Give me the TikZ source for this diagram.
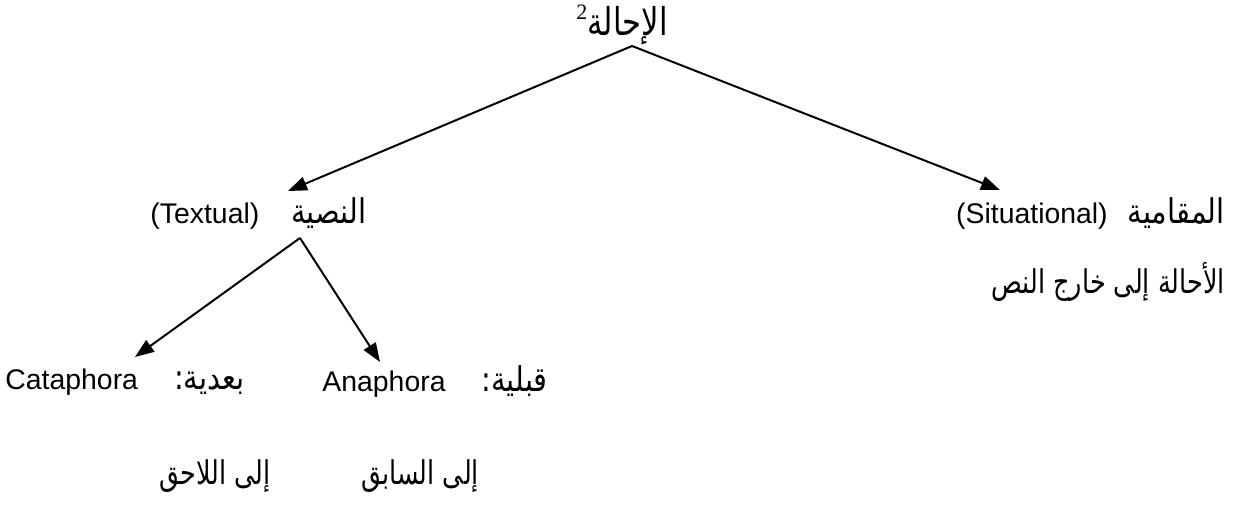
\documentclass[tikz,border=0pt]{standalone}
\usepackage{fontspec}
\usepackage{graphicx}
\setmainfont{Liberation Sans}
\newfontfamily\arabicfont[Script=Arabic,Scale=1.2]{DejaVu Sans}
\newfontfamily\extarabic[Script=Arabic,Scale=1.15]{DejaVu Sans}
\newfontfamily\titlearabic[Script=Arabic,Scale=1.35]{DejaVu Sans}
\newfontfamily\supfont{Liberation Serif}
\newcommand{\arlbl}[1]{\scalebox{0.85}[1]{\arabicfont\beginR #1\endR}}
\newcommand{\arext}[1]{\scalebox{0.78}[1]{\extarabic\beginR #1\endR}}
\TeXXeTstate=1
\usetikzlibrary{arrows.meta}
\begin{document}
\begin{tikzpicture}[x=0.5pt,y=-0.5pt,
  lbl/.style={inner sep=0pt,font=\fontsize{14.2}{17}\selectfont},
  arr/.style={line width=1pt,-{Triangle[length=9.5pt,width=7pt]}}]
\useasboundingbox (0,0) rectangle (1233,517);
\node[lbl] (top) at (622,25) {\raisebox{0.55em}{\supfont\fontsize{11}{12}\selectfont 2}\scalebox{0.8}[1]{\titlearabic\beginR الإحالة\endR}};
\coordinate (apex) at (632,46);
\node[lbl,anchor=west] (textual) at (150,214) {(Textual)\hspace{16pt}\arlbl{النصية}};
\node[lbl,anchor=east] (situ) at (1225,214) {(Situational)\hspace{10pt}\arlbl{المقامية}};
\node[lbl,anchor=east] (ext) at (1225,282) {\arext{الأحالة إلى خارج النص}};
\coordinate (tl) at (288,191);
\coordinate (tr) at (1000,190);
\coordinate (apex2) at (300,238);
\node[lbl,anchor=west] (cata) at (5,382) {Cataphora\hspace{18pt}\arlbl{بعدية:}};
\node[lbl,anchor=west] (ana) at (322,382) {Anaphora\hspace{18pt}\arlbl{قبلية:}};
\coordinate (bl) at (135,357);
\coordinate (br) at (380,362);
\node[lbl] (lahiq) at (215,476) {\arext{إلى اللاحق}};
\node[lbl] (sabiq) at (420,476) {\arext{إلى السابق}};
\draw[arr] (apex) -- (tl);
\draw[arr] (apex) -- (tr);
\draw[arr] (apex2) -- (bl);
\draw[arr] (apex2) -- (br);
\end{tikzpicture}
\end{document}
